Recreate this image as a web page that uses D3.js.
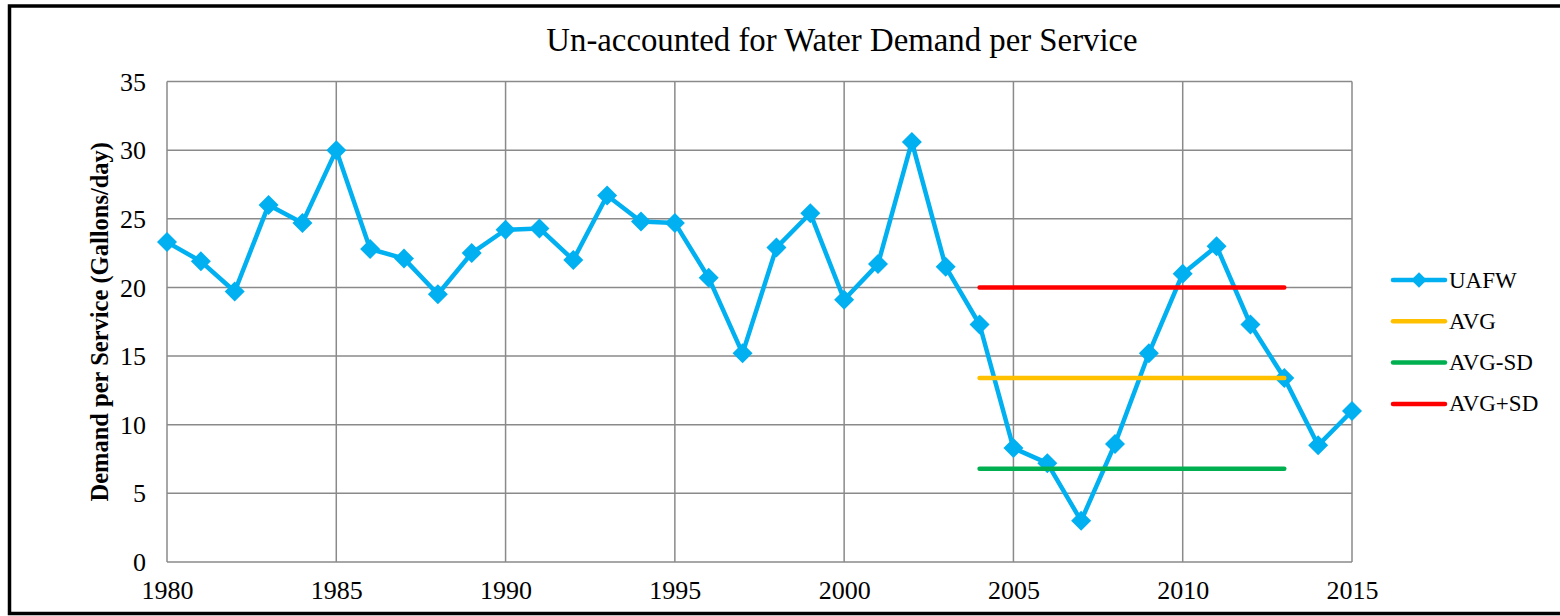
<!DOCTYPE html>
<html>
<head>
<meta charset="utf-8">
<script src="https://cdn.jsdelivr.net/npm/d3@7"></script>
<style>
  html, body { margin: 0; padding: 0; background: #fff; overflow: hidden; }
  svg { display: block; }
  svg text { font-family: "Liberation Serif", "Times New Roman", serif; fill: #000; }
</style>
</head>
<body>
<div id="container"></div>
<script>
// data declaration
const years = [1980, 1981, 1982, 1983, 1984, 1985, 1986, 1987, 1988, 1989,
               1990, 1991, 1992, 1993, 1994, 1995, 1996, 1997, 1998, 1999,
               2000, 2001, 2002, 2003, 2004, 2005, 2006, 2007, 2008, 2009,
               2010, 2011, 2012, 2013, 2014, 2015];
const uafw = [23.3, 21.9, 19.7, 26.0, 24.7, 30.0, 22.8, 22.1, 19.5, 22.5,
              24.2, 24.3, 22.0, 26.7, 24.8, 24.7, 20.7, 15.2, 22.9, 25.4,
              19.1, 21.7, 30.6, 21.5, 17.3, 8.3, 7.2, 3.0, 8.6, 15.2,
              21.0, 23.0, 17.3, 13.4, 8.5, 11.0];
const refYears = [2004, 2013];
const avg = 13.4;
const avgMinusSd = 6.8;
const avgPlusSd = 20.0;
const yTicks = [0, 5, 10, 15, 20, 25, 30, 35];
const xTicks = [1980, 1985, 1990, 1995, 2000, 2005, 2010, 2015];
const legendNames = ["UAFW", "AVG", "AVG-SD", "AVG+SD"];

const w = 1560;
const h = 616;
const plot = {left: 167, right: 1352, top: 81.5, bottom: 562};
const blue = "#00b0f0";
const colors = {"UAFW": blue, "AVG": "#ffc000", "AVG-SD": "#00b050", "AVG+SD": "#ff0000"};
const serif = "'Liberation Serif', 'Times New Roman', serif";

// draw svg
const svg = d3.select("#container").append("svg").attr("width", w).attr("height", h);

// outer frame: top, left and bottom only, the right side is off the page
svg.append("path")
  .attr("d", "M" + w + ",6 H9.5 V613.5 H" + w)
  .attr("fill", "none")
  .attr("stroke", "#000")
  .attr("stroke-width", 3.5);

// scales
const xScale = d3.scaleLinear().domain([1980, 2015]).range([plot.left, plot.right]);
const yScale = d3.scaleLinear().domain([0, 35]).range([plot.bottom, plot.top]);

// gridlines
const grid = svg.append("g").attr("stroke", "#8a8a8a").attr("stroke-width", 1.5);
grid.selectAll(".hgrid")
  .data(yTicks)
  .enter()
  .append("line")
  .attr("x1", plot.left).attr("x2", plot.right)
  .attr("y1", d => yScale(d)).attr("y2", d => yScale(d));
grid.selectAll(".vgrid")
  .data(xTicks)
  .enter()
  .append("line")
  .attr("y1", plot.top).attr("y2", plot.bottom)
  .attr("x1", d => xScale(d)).attr("x2", d => xScale(d));

// axes (labels only, Excel style)
const yAxis = d3.axisLeft(yScale).tickValues(yTicks).tickSize(0).tickPadding(21);
const xAxis = d3.axisBottom(xScale).tickValues(xTicks).tickFormat(d3.format("d")).tickSize(0).tickPadding(19);

const gy = svg.append("g")
  .attr("transform", "translate(" + plot.left + ",0)")
  .call(yAxis);
const gx = svg.append("g")
  .attr("transform", "translate(0," + plot.bottom + ")")
  .call(xAxis);
[gx, gy].forEach(g => {
  g.select(".domain").remove();
  g.selectAll("text")
    .style("font-family", serif)
    .style("font-size", "26px")
    .attr("fill", "#000");
});
gy.selectAll("text").attr("dy", "0.33em");

// title
svg.append("text")
  .attr("x", 842).attr("y", 51)
  .attr("text-anchor", "middle")
  .style("font-size", "32.8px")
  .text("Un-accounted for Water Demand per Service");

// y label
svg.append("text")
  .attr("transform", "translate(108," + ((plot.top + plot.bottom) / 2) + ") rotate(-90)")
  .attr("text-anchor", "middle")
  .style("font-size", "24.5px")
  .style("font-weight", "bold")
  .text("Demand per Service (Gallons/day)");

// diamond marker
const diamond = d3.symbol().type(d3.symbolSquare).size(200);

// UAFW series
const series = years.map((y, i) => ({year: y, value: uafw[i]}));
const line = d3.line().x(d => xScale(d.year)).y(d => yScale(d.value));

svg.append("path")
  .datum(series)
  .attr("d", line)
  .attr("fill", "none")
  .attr("stroke", blue)
  .attr("stroke-width", 4.5)
  .attr("stroke-linejoin", "round");

svg.selectAll(".marker")
  .data(series)
  .enter()
  .append("path")
  .attr("class", "marker")
  .attr("d", diamond)
  .attr("transform", d => "translate(" + xScale(d.year) + "," + yScale(d.value) + ") rotate(45)")
  .attr("fill", blue);

// reference lines
const refs = [
  {name: "AVG", value: avg},
  {name: "AVG-SD", value: avgMinusSd},
  {name: "AVG+SD", value: avgPlusSd}
];
svg.selectAll(".ref")
  .data(refs)
  .enter()
  .append("line")
  .attr("x1", xScale(refYears[0])).attr("x2", xScale(refYears[1]))
  .attr("y1", d => yScale(d.value)).attr("y2", d => yScale(d.value))
  .attr("stroke", d => colors[d.name])
  .attr("stroke-width", 4.5)
  .attr("stroke-linecap", "round");

// legend
const legend = svg.append("g").attr("transform", "translate(1393,280)");
const items = legend.selectAll("g")
  .data(legendNames)
  .enter()
  .append("g")
  .attr("transform", (d, i) => "translate(0," + (i * 41.3) + ")");
items.append("line")
  .attr("x1", 0).attr("x2", 52)
  .attr("stroke", d => colors[d])
  .attr("stroke-width", 4.5)
  .attr("stroke-linecap", "round");
items.filter(d => d === "UAFW")
  .append("path")
  .attr("d", d3.symbol().type(d3.symbolSquare).size(120))
  .attr("transform", "translate(26,0) rotate(45)")
  .attr("fill", blue);
items.append("text")
  .attr("x", 56).attr("y", 7.5)
  .style("font-size", "23px")
  .text(d => d);
</script>
</body>
</html>
